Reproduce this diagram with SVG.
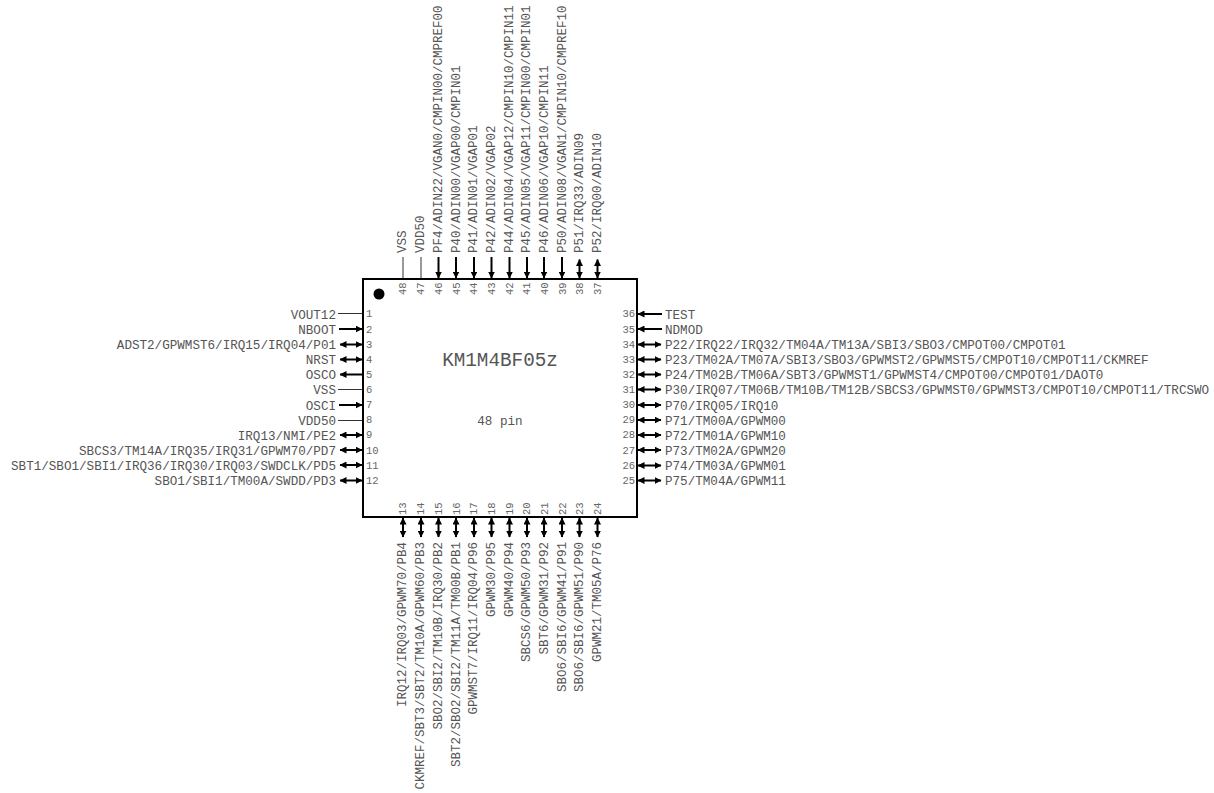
<svg xmlns="http://www.w3.org/2000/svg" width="1214" height="793" viewBox="0 0 1214 793">
<style>
text{font-family:"Liberation Mono",monospace;fill:#555}
.l{font-size:12.6px}
.r{font-size:12.5px}
.n{font-size:10.5px;fill:#666}
.e{text-anchor:end}
.w{stroke:#000;stroke-width:2;fill:none}
.t{stroke:#333;stroke-width:1;fill:none}
.a{marker-end:url(#h)}
.b{marker-start:url(#s);marker-end:url(#h)}
.c{marker-start:url(#s)}
</style>
<defs>
<marker id="h" viewBox="0 0 7 7" refX="6.500" refY="3.500" markerUnits="userSpaceOnUse" markerWidth="7" markerHeight="7" orient="auto"><path d="M0 0L7 3.500L0 7z" fill="#000"/></marker>
<marker id="s" viewBox="0 0 7 7" refX="0.500" refY="3.500" markerUnits="userSpaceOnUse" markerWidth="7" markerHeight="7" orient="auto"><path d="M7 0L0 3.500L7 7z" fill="#000"/></marker>
</defs>
<g id="chip">
<rect x="363" y="279" width="274" height="238" fill="#fff" stroke="#000" stroke-width="2"/>
<circle cx="379" cy="294" r="5.500" fill="#000"/>
<text x="500" y="366" text-anchor="middle" style="font-size:19.3px">KM1M4BF05z</text>
<text x="500" y="425" text-anchor="middle" class="l">48 pin</text>
</g>
<g id="connectors">
<path class="t" d="M338 313.500H362M338 389.500H362M338 420.500H362"/>
<path class="w a" d="M339 329H362"/><path class="w b" d="M340 344.500H362"/>
<path class="w b" d="M340 359.500H362"/><path class="w c" d="M340 374.500H362"/><path class="w a" d="M339 405H362"/>
<path class="w b" d="M340 435H362"/><path class="w b" d="M340 450H362"/><path class="w b" d="M340 465H362"/><path class="w b" d="M340 480.500H362"/>
<path class="w c" d="M638 314H662"/><path class="w c" d="M638 329H662"/>
<path class="w b" d="M638 344.500H661"/><path class="w b" d="M638 359.500H661"/><path class="w b" d="M638 374.500H661"/><path class="w b" d="M638 389.500H661"/><path class="w b" d="M638 405H661"/><path class="w b" d="M638 420H661"/><path class="w b" d="M638 435H661"/><path class="w b" d="M638 450H661"/><path class="w b" d="M638 465.500H661"/><path class="w b" d="M638 480.500H661"/>
<path class="t" d="M403 257V278M421 257V278"/>
<path class="w a" d="M438.500 257V278"/><path class="w a" d="M456 257V278"/><path class="w a" d="M474 257V278"/><path class="w a" d="M491.500 257V278"/><path class="w a" d="M509.500 257V278"/><path class="w a" d="M527 257V278"/><path class="w a" d="M544 257V278"/><path class="w a" d="M562 257V278"/>
<path class="w b" d="M579.500 259.500V278"/><path class="w b" d="M597.500 259.500V278"/>
<path class="w b" d="M403 518V537"/><path class="w b" d="M421 518V537"/><path class="w b" d="M438.500 518V537"/><path class="w b" d="M456 518V537"/><path class="w b" d="M474 518V537"/><path class="w b" d="M491.500 518V537"/><path class="w b" d="M509.500 518V537"/><path class="w b" d="M527 518V537"/><path class="w b" d="M544 518V537"/><path class="w b" d="M562 518V537"/><path class="w b" d="M579.500 518V537"/><path class="w b" d="M597.500 518V537"/>
</g>
<g id="pins-left">
<g id="p1"><text class="l e" x="336" y="318.500">VOUT12</text><text class="n" x="366" y="317">1</text></g>
<g id="p2"><text class="l e" x="336" y="334">NBOOT</text><text class="n" x="366" y="333">2</text></g>
<g id="p3"><text class="l e" x="336" y="349">ADST2/GPWMST6/IRQ15/IRQ04/P01</text><text class="n" x="366" y="348">3</text></g>
<g id="p4"><text class="l e" x="336" y="364">NRST</text><text class="n" x="366" y="363">4</text></g>
<g id="p5"><text class="l e" x="336" y="379">OSCO</text><text class="n" x="366" y="378">5</text></g>
<g id="p6"><text class="l e" x="336" y="394">VSS</text><text class="n" x="366" y="393">6</text></g>
<g id="p7"><text class="l e" x="336" y="410">OSCI</text><text class="n" x="366" y="408">7</text></g>
<g id="p8"><text class="l e" x="336" y="425">VDD50</text><text class="n" x="366" y="423">8</text></g>
<g id="p9"><text class="l e" x="336" y="440">IRQ13/NMI/PE2</text><text class="n" x="366" y="438">9</text></g>
<g id="p10"><text class="l e" x="336" y="455">SBCS3/TM14A/IRQ35/IRQ31/GPWM70/PD7</text><text class="n" x="366" y="454">10</text></g>
<g id="p11"><text class="l e" x="336" y="470">SBT1/SBO1/SBI1/IRQ36/IRQ30/IRQ03/SWDCLK/PD5</text><text class="n" x="366" y="469">11</text></g>
<g id="p12"><text class="l e" x="336" y="485">SBO1/SBI1/TM00A/SWDD/PD3</text><text class="n" x="366" y="484">12</text></g>
</g>
<g id="pins-right">
<g id="p36"><text class="l" x="665" y="319">TEST</text><text class="n e" x="635" y="317">36</text></g>
<g id="p35"><text class="l" x="665" y="334">NDMOD</text><text class="n e" x="635" y="333">35</text></g>
<g id="p34"><text class="l" x="665" y="349">P22/IRQ22/IRQ32/TM04A/TM13A/SBI3/SBO3/CMPOT00/CMPOT01</text><text class="n e" x="635" y="348">34</text></g>
<g id="p33"><text class="l" x="665" y="364">P23/TM02A/TM07A/SBI3/SBO3/GPWMST2/GPWMST5/CMPOT10/CMPOT11/CKMREF</text><text class="n e" x="635" y="363">33</text></g>
<g id="p32"><text class="l" x="665" y="379">P24/TM02B/TM06A/SBT3/GPWMST1/GPWMST4/CMPOT00/CMPOT01/DAOT0</text><text class="n e" x="635" y="378">32</text></g>
<g id="p31"><text class="l" x="665" y="394">P30/IRQ07/TM06B/TM10B/TM12B/SBCS3/GPWMST0/GPWMST3/CMPOT10/CMPOT11/TRCSWO</text><text class="n e" x="635" y="393">31</text></g>
<g id="p30"><text class="l" x="665" y="410">P70/IRQ05/IRQ10</text><text class="n e" x="635" y="408">30</text></g>
<g id="p29"><text class="l" x="665" y="425">P71/TM00A/GPWM00</text><text class="n e" x="635" y="423">29</text></g>
<g id="p28"><text class="l" x="665" y="440">P72/TM01A/GPWM10</text><text class="n e" x="635" y="438">28</text></g>
<g id="p27"><text class="l" x="665" y="455">P73/TM02A/GPWM20</text><text class="n e" x="635" y="454">27</text></g>
<g id="p26"><text class="l" x="665" y="470">P74/TM03A/GPWM01</text><text class="n e" x="635" y="469">26</text></g>
<g id="p25"><text class="l" x="665" y="485">P75/TM04A/GPWM11</text><text class="n e" x="635" y="484">25</text></g>
</g>
<g id="pins-top">
<g id="p48"><text class="r" transform="translate(406 253) rotate(-90)">VSS</text><text class="n" transform="translate(406 295) rotate(-90)">48</text></g>
<g id="p47"><text class="r" transform="translate(424 253) rotate(-90)">VDD50</text><text class="n" transform="translate(424 295) rotate(-90)">47</text></g>
<g id="p46"><text class="r" transform="translate(441.500 253) rotate(-90)">PF4/ADIN22/VGAN0/CMPIN00/CMPREF00</text><text class="n" transform="translate(441.500 295) rotate(-90)">46</text></g>
<g id="p45"><text class="r" transform="translate(459.500 253) rotate(-90)">P40/ADIN00/VGAP00/CMPIN01</text><text class="n" transform="translate(459.500 295) rotate(-90)">45</text></g>
<g id="p44"><text class="r" transform="translate(477 253) rotate(-90)">P41/ADIN01/VGAP01</text><text class="n" transform="translate(477 295) rotate(-90)">44</text></g>
<g id="p43"><text class="r" transform="translate(495 253) rotate(-90)">P42/ADIN02/VGAP02</text><text class="n" transform="translate(495 295) rotate(-90)">43</text></g>
<g id="p42"><text class="r" transform="translate(512.500 253) rotate(-90)">P44/ADIN04/VGAP12/CMPIN10/CMPIN11</text><text class="n" transform="translate(512.500 295) rotate(-90)">42</text></g>
<g id="p41"><text class="r" transform="translate(530 253) rotate(-90)">P45/ADIN05/VGAP11/CMPIN00/CMPIN01</text><text class="n" transform="translate(530 295) rotate(-90)">41</text></g>
<g id="p40"><text class="r" transform="translate(547.500 253) rotate(-90)">P46/ADIN06/VGAP10/CMPIN11</text><text class="n" transform="translate(547.500 295) rotate(-90)">40</text></g>
<g id="p39"><text class="r" transform="translate(565.500 253) rotate(-90)">P50/ADIN08/VGAN1/CMPIN10/CMPREF10</text><text class="n" transform="translate(565.500 295) rotate(-90)">39</text></g>
<g id="p38"><text class="r" transform="translate(583 253) rotate(-90)">P51/IRQ33/ADIN09</text><text class="n" transform="translate(583 295) rotate(-90)">38</text></g>
<g id="p37"><text class="r" transform="translate(601 253) rotate(-90)">P52/IRQ00/ADIN10</text><text class="n" transform="translate(601 295) rotate(-90)">37</text></g>
</g>
<g id="pins-bottom">
<g id="p13"><text class="r e" transform="translate(406 542) rotate(-90)">IRQ12/IRQ03/GPWM70/PB4</text><text class="n" transform="translate(406 515) rotate(-90)">13</text></g>
<g id="p14"><text class="r e" transform="translate(424 542) rotate(-90)">CKMREF/SBT3/SBT2/TM10A/GPWM60/PB3</text><text class="n" transform="translate(424 515) rotate(-90)">14</text></g>
<g id="p15"><text class="r e" transform="translate(441.500 542) rotate(-90)">SBO2/SBI2/TM10B/IRQ30/PB2</text><text class="n" transform="translate(441.500 515) rotate(-90)">15</text></g>
<g id="p16"><text class="r e" transform="translate(459.500 542) rotate(-90)">SBT2/SBO2/SBI2/TM11A/TM00B/PB1</text><text class="n" transform="translate(459.500 515) rotate(-90)">16</text></g>
<g id="p17"><text class="r e" transform="translate(477 542) rotate(-90)">GPWMST7/IRQ11/IRQ04/P96</text><text class="n" transform="translate(477 515) rotate(-90)">17</text></g>
<g id="p18"><text class="r e" transform="translate(495 542) rotate(-90)">GPWM30/P95</text><text class="n" transform="translate(495 515) rotate(-90)">18</text></g>
<g id="p19"><text class="r e" transform="translate(512.500 542) rotate(-90)">GPWM40/P94</text><text class="n" transform="translate(512.500 515) rotate(-90)">19</text></g>
<g id="p20"><text class="r e" transform="translate(530 542) rotate(-90)">SBCS6/GPWM50/P93</text><text class="n" transform="translate(530 515) rotate(-90)">20</text></g>
<g id="p21"><text class="r e" transform="translate(547.500 542) rotate(-90)">SBT6/GPWM31/P92</text><text class="n" transform="translate(547.500 515) rotate(-90)">21</text></g>
<g id="p22"><text class="r e" transform="translate(565.500 542) rotate(-90)">SBO6/SBI6/GPWM41/P91</text><text class="n" transform="translate(565.500 515) rotate(-90)">22</text></g>
<g id="p23"><text class="r e" transform="translate(583 542) rotate(-90)">SBO6/SBI6/GPWM51/P90</text><text class="n" transform="translate(583 515) rotate(-90)">23</text></g>
<g id="p24"><text class="r e" transform="translate(601 542) rotate(-90)">GPWM21/TM05A/P76</text><text class="n" transform="translate(601 515) rotate(-90)">24</text></g>
</g>
</svg>
